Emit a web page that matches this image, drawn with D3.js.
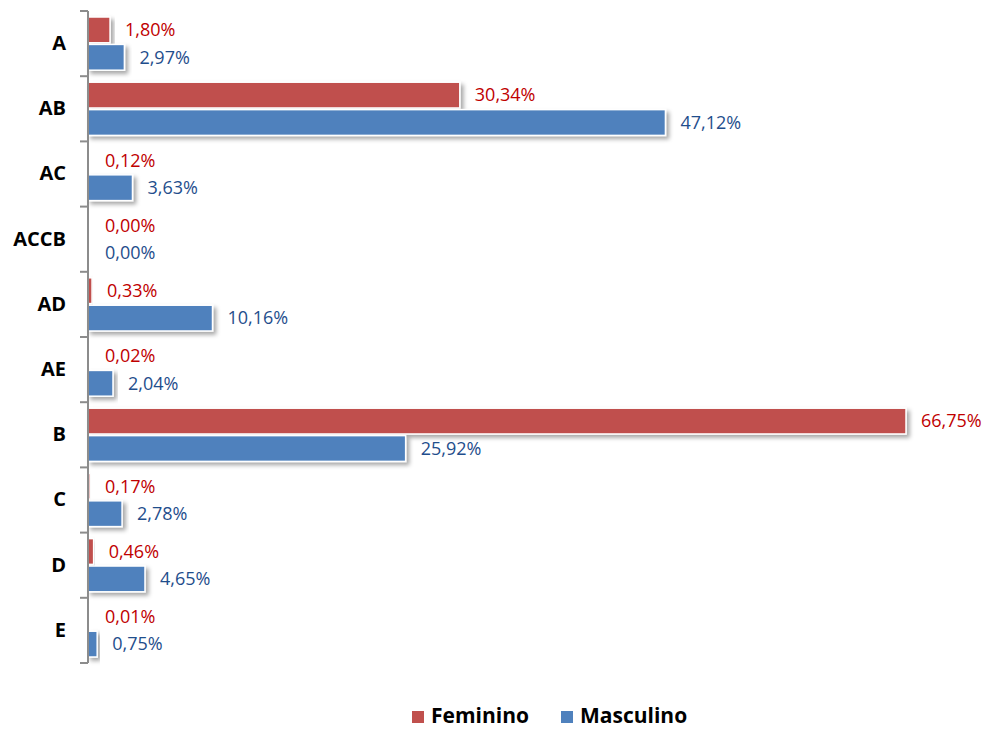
<!DOCTYPE html>
<html>
<head>
<meta charset="utf-8">
<script src="https://cdn.jsdelivr.net/npm/d3@7"></script>
<style>
body { margin:0; background:#fff; }
</style>
</head>
<body>
<div id="chart-area"></div>
<script>
var categories = ["A","AB","AC","ACCB","AD","AE","B","C","D","E"];
var feminino = [1.80, 30.34, 0.12, 0.00, 0.33, 0.02, 66.75, 0.17, 0.46, 0.01];
var masculino = [2.97, 47.12, 3.63, 0.00, 10.16, 2.04, 25.92, 2.78, 4.65, 0.75];
var seriesNames = ["Feminino", "Masculino"];

var W = 992, H = 729;
var margin = {left:88, right:46, top:11, bottom:66};
var width = W - margin.left - margin.right;
var height = H - margin.top - margin.bottom;

var fmt = function(v){ return v.toFixed(2).replace(".", ",") + "%"; };

var svg = d3.select("#chart-area")
	.append("svg")
		.attr("width", W)
		.attr("height", H)
		.style("font-family", "'Open Sans', sans-serif");

var defs = svg.append("defs");
var filt = defs.append("filter").attr("id","shadow")
	.attr("x","-10%").attr("y","-30%").attr("width","130%").attr("height","180%");
filt.append("feDropShadow")
	.attr("dx",3).attr("dy",3).attr("stdDeviation",2.2)
	.attr("flood-color","#000").attr("flood-opacity",0.35);

var g = svg.append("g")
	.attr("transform","translate("+margin.left+","+margin.top+")");

var y = d3.scaleBand()
	.domain(categories)
	.range([0, height]);

// 66,75% ends at about 818px from the axis
var x = d3.scaleLinear()
	.domain([0, 70])
	.range([0, 818 / 66.75 * 70]);

var inner = d3.scaleBand()
	.domain(seriesNames)
	.range([6, y.bandwidth() - 6])
	.paddingInner(0.06);

var colors = {Feminino:"#C0504D", Masculino:"#4F81BD"};
var labelColors = {Feminino:"#C00000", Masculino:"#1F4E8C"};

var rows = [];
categories.forEach(function(c, i){
	rows.push({cat:c, s:"Feminino", v:feminino[i]});
	rows.push({cat:c, s:"Masculino", v:masculino[i]});
});

// bars
g.selectAll("rect.bar")
	.data(rows.filter(function(d){ return d.v > 0; }))
	.enter()
	.append("rect")
		.attr("class","bar")
		.attr("x", 0)
		.attr("y", function(d){ return y(d.cat) + inner(d.s); })
		.attr("width", function(d){ return Math.max(x(d.v), 1.5); })
		.attr("height", inner.bandwidth())
		.attr("fill", function(d){ return colors[d.s]; })
		.attr("stroke", "#fff")
		.attr("stroke-width", 1.5)
		.attr("filter", "url(#shadow)");

// value labels
g.selectAll("text.val")
	.data(rows)
	.enter()
	.append("text")
		.attr("class","val")
		.attr("x", function(d){ return Math.max(x(d.v), 2) + 15; })
		.attr("y", function(d){ return y(d.cat) + inner(d.s) + inner.bandwidth()/2; })
		.attr("dy", "0.35em")
		.attr("font-size", "18px")
		.attr("fill", function(d){ return labelColors[d.s]; })
		.text(function(d){ return fmt(d.v); });

// axis
var yAxisCall = d3.axisLeft(y).tickSize(0).tickPadding(22);
var yAx = g.append("g")
	.attr("class","y axis")
	.call(yAxisCall);
yAx.select(".domain").remove();
yAx.selectAll("text")
	.attr("font-size","20px")
	.attr("font-weight","bold")
	.attr("fill","#000")
	.style("font-family","'Open Sans', sans-serif");

g.append("line")
	.attr("x1",0).attr("x2",0)
	.attr("y1",0).attr("y2",height)
	.attr("stroke","#8c8c8c").attr("stroke-width",2);

var bounds = categories.map(function(c){ return y(c); }).concat([height]);
g.selectAll("line.tick")
	.data(bounds)
	.enter()
	.append("line")
		.attr("class","tick")
		.attr("x1",-8).attr("x2",0)
		.attr("y1",function(d){ return d; })
		.attr("y2",function(d){ return d; })
		.attr("stroke","#8c8c8c").attr("stroke-width",2);

// legend
var legend = svg.append("g").attr("transform","translate(0,716)");
var legX = [412, 561];
seriesNames.forEach(function(s, i){
	legend.append("rect")
		.attr("x", legX[i]).attr("y", -5)
		.attr("width", 12).attr("height", 12)
		.attr("fill", colors[s]);
	legend.append("text")
		.attr("x", legX[i] + 19).attr("y", 7)
		.attr("font-size","21px")
		.attr("font-weight","bold")
		.attr("fill","#000")
		.text(s);
});
</script>
</body>
</html>
